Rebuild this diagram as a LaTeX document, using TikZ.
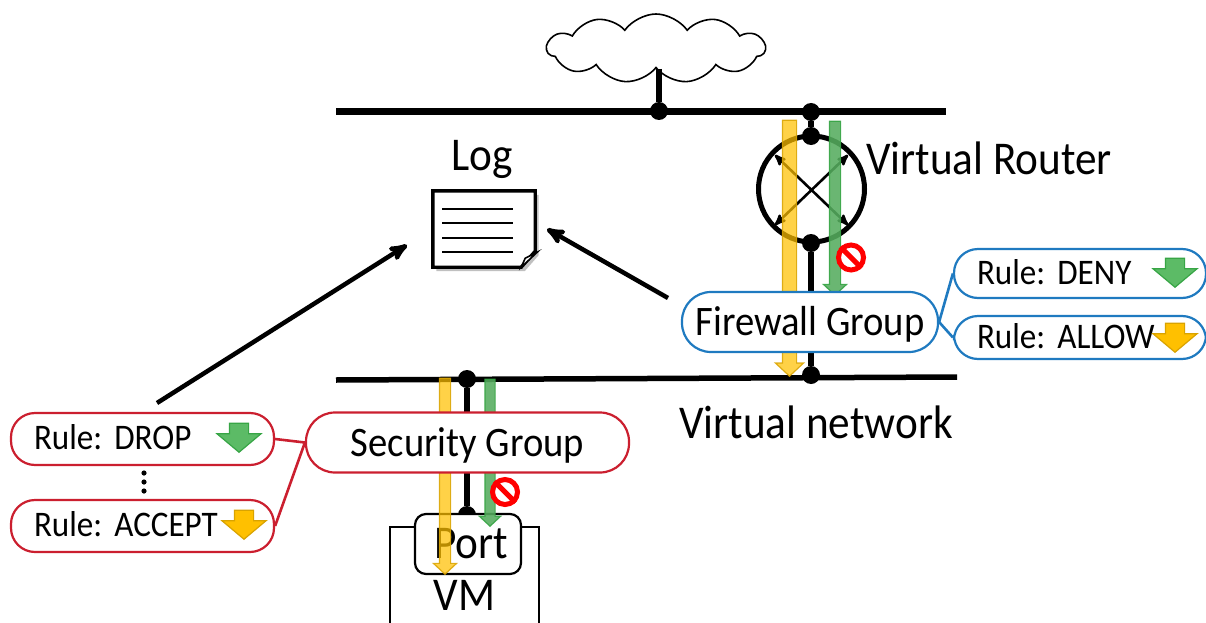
\documentclass[tikz,border=0pt]{standalone}
\usepackage{fontspec}
\setmainfont[FakeStretch=0.92]{Carlito}
\usepackage{xcolor}
\definecolor{colorFirewall}{HTML}{1F7AC0}
\definecolor{colorSecurity}{HTML}{CB1F2F}
\definecolor{colorAllow}{HTML}{FFC000}
\definecolor{colorAllowEdge}{HTML}{D9A300}
\definecolor{colorDeny}{HTML}{5CBB66}
\definecolor{colorDenyEdge}{HTML}{37A545}
\usetikzlibrary{arrows, positioning, shapes.arrows, shapes.symbols, shadows}
\tikzset{
  bus/.style={line width=7pt},
  link/.style={line width=5.5pt},
  junction/.style={circle, fill=black, inner sep=0pt, minimum size=18pt},
  bigtext/.style={font=\fontsize{47}{52}\selectfont, inner sep=0pt},
  grouptext/.style={font=\fontsize{42}{47}\selectfont, inner sep=0pt, text height=27pt, text depth=0pt},
  ruletext/.style={font=\fontsize{36}{41}\selectfont, text height=21.5pt, text depth=0pt},
  groupbox/.style={draw, fill=white, rounded corners=29pt, line width=2.2pt, grouptext, minimum height=#1},
  rulebox/.style={draw, fill=white, rounded corners=24pt, line width=2.2pt, ruletext, inner ysep=0pt, inner xsep=23pt, align=left},
  flow/.style={single arrow, rotate=-90, anchor=tip, inner xsep=0pt, single arrow tip angle=94, line width=1.2pt},
  allow/.style={flow, fill=colorAllow, draw=colorAllowEdge, fill opacity=.72, draw opacity=.85},
  deny/.style={flow, fill=colorDeny!92!black, draw=colorDenyEdge, fill opacity=.88, draw opacity=.9},
  tag/.style={single arrow, rotate=-90, anchor=tip, inner xsep=0pt, inner ysep=9pt, single arrow tip angle=100, line width=1.2pt, minimum height=29pt, minimum width=43pt, single arrow head extend=12.5pt},
  stopsign/.style={circle, draw=red, fill=white, line width=5pt, inner sep=0pt, minimum size=25pt},
  stopbar/.style={red, line width=5pt},
  tie/.style={line width=2.6pt},
  pointer/.style={->, line width=4.5pt}
}
\frenchspacing

\begin{document}
\begin{tikzpicture}[>=stealth', x=1pt, y=-1pt]
\path[use as bounding box, clip] (0,0) rectangle (1206,623);

% upper network and cloud
\coordinate (busTopL) at (336,112);
\coordinate (busTopR) at (946,112);
\node[junction] (jCloud) at (659,111) {};
\node[junction] (jTop) at (811,112) {};
\draw[bus] (busTopL) -- (busTopR);
\node[cloud, draw, fill=white, line width=1.6pt, cloud puffs=11, cloud puff arc=110, aspect=3.2, minimum width=218pt, minimum height=69pt, inner sep=0pt] (cloud) at (656,48.5) {};
\draw[link] (cloud.south -| jCloud) -- (jCloud);

% router
\node[circle, draw, line width=5pt, minimum size=106pt, inner sep=0pt] (router) at (811.5,189) {};
\node[junction] (jRouterUp) at (811,136) {};
\node[junction] (jRouterDown) at (811,243) {};
\coordinate (crossNW) at (775,155);
\coordinate (crossNE) at (848,155);
\coordinate (crossSW) at (775,225);
\coordinate (crossSE) at (848,225);
\draw[<->, line width=2.6pt] (crossNW) -- (crossSE);
\draw[<->, line width=2.6pt] (crossNE) -- (crossSW);
\draw[link] (jTop) -- (jRouterUp);
\node[bigtext, anchor=west] (routerText) at (866,158) {Virtual Router};

% lower network
\coordinate (busLowL) at (336,380);
\coordinate (busLowR) at (957,377);
\draw[line width=5.5pt] (busLowL) -- (busLowR);
\node[junction] (jFirewall) at (811,375) {};
\node[junction] (jSecurity) at (467,379) {};
\node[bigtext] (networkText) at (816,422) {Virtual network};
\draw[link] (jRouterDown) -- (jFirewall);

% vm and port
\node[draw, line width=2.2pt, minimum width=149pt, minimum height=136pt, bigtext] (vm) at (464.5,595) {VM};
\node[junction] (jPort) at (467,515) {};
\draw[link] (jSecurity) -- (jPort);
\node[draw, fill=white, rounded corners=11pt, line width=2.2pt, minimum width=106pt, minimum height=60pt, bigtext] (port) at (468,544) {\hspace{6pt}Port};

% flows
\node[allow, inner ysep=6.5pt, minimum height=256pt, minimum width=27pt, single arrow head extend=7pt] (flowRouterOk) at (789.5,377) {};
\node[deny, inner ysep=5pt, minimum height=174pt, minimum width=22pt, single arrow head extend=6pt] (flowRouterNg) at (835,296) {};
\node[allow, inner ysep=5pt, minimum height=196pt, minimum width=22pt, single arrow head extend=6pt] (flowPortOk) at (445,575) {};
\node[deny, inner ysep=4.5pt, minimum height=147pt, minimum width=20pt, single arrow head extend=5.5pt] (flowPortNg) at (490,527) {};

% groups
\node[groupbox=60pt, draw=colorFirewall, minimum width=256pt] (firewall) at (810,322) {Firewall Group};
\node[groupbox=60pt, draw=colorSecurity, minimum width=323pt] (security) at (467.5,442.5) {Security Group};
\node[stopsign] (stopRouter) at (851,257.5) {};
\draw[stopbar] (stopRouter.135) -- (stopRouter.-45);
\node[stopsign] (stopPort) at (505,492) {};
\draw[stopbar] (stopPort.135) -- (stopPort.-45);

% rules
\node[rulebox, draw=colorFirewall, text width=206pt, minimum height=49pt] (ruleDeny) at (1080,273.5) {Rule: DENY};
\node[rulebox, draw=colorFirewall, text width=206pt, minimum height=43pt] (ruleAllow) at (1080,337.5) {Rule: ALLOW};
\node[rulebox, draw=colorSecurity, text width=217pt, minimum height=52pt] (ruleDrop) at (142.5,439) {Rule: DROP};
\node[rulebox, draw=colorSecurity, text width=217pt, minimum height=52pt] (ruleAccept) at (142.5,526) {Rule: ACCEPT};
\draw[tie, colorFirewall] (firewall.east) -- (ruleDeny.west);
\draw[tie, colorFirewall] (firewall.east) -- (ruleAllow.west);
\draw[tie, colorSecurity] (ruleDrop.east) -- (security.west);
\draw[tie, colorSecurity] (ruleAccept.east) -- (security.west);
\node[tag, fill=colorDeny, draw=colorDenyEdge] (tagDeny) at (1175,288) {};
\node[tag, fill=colorAllow, draw=colorAllowEdge] (tagAllow) at (1175,353) {};
\node[tag, fill=colorDeny, draw=colorDenyEdge] (tagDrop) at (239,453) {};
\node[tag, fill=colorAllow, draw=colorAllowEdge] (tagAccept) at (244,540) {};
\foreach \ydot in {473,482,491} \fill (144,\ydot) circle (2.6pt);

% log
\node[bigtext] (logText) at (482,159) {Log};
\node[minimum width=102pt, minimum height=76pt, inner sep=0pt] (log) at (484,229) {};
\draw[line width=3.4pt, fill=white, drop shadow={shadow xshift=3.5pt, shadow yshift=-4pt, fill=black!55, opacity=.45}] (log.north west) -- (log.north east) -- ([yshift=16pt]log.south east) -- ([xshift=-14pt]log.south east) -- (log.south west) -- cycle;
\filldraw[line width=1.6pt, fill=white] ([xshift=-14pt]log.south east) -- ([xshift=-10pt, yshift=9pt]log.south east) -- ([xshift=2pt, yshift=15pt]log.south east) -- cycle;
\foreach \yline in {209,223,238,252} \draw[line width=2pt] (442,\yline) -- (513,\yline);
\coordinate (logLeft) at (407,245);
\coordinate (logRight) at (547,229);
\coordinate (fromSecurity) at (157,403);
\coordinate (fromFirewall) at (668,298);
\draw[pointer] (fromSecurity) -- (logLeft);
\draw[pointer] (fromFirewall) -- (logRight);
\end{tikzpicture}
\end{document}
